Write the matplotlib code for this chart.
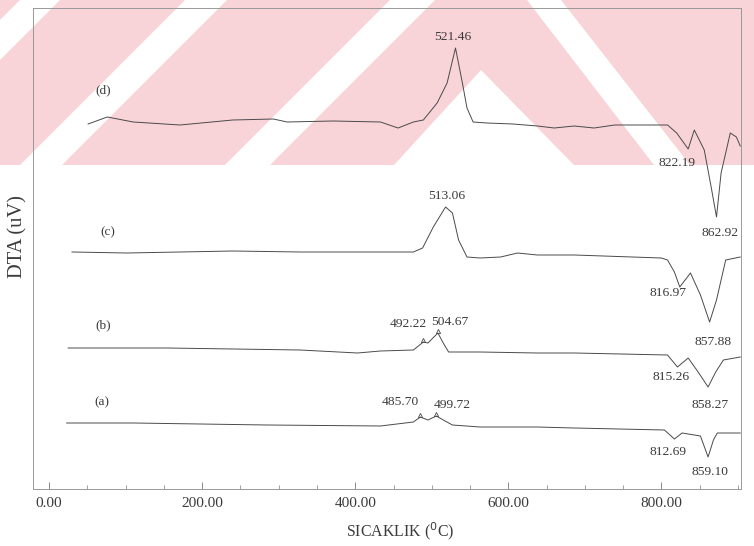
import matplotlib
matplotlib.use('Agg')
import matplotlib.pyplot as plt
from matplotlib.patches import Polygon
from matplotlib.ticker import MultipleLocator, FormatStrFormatter

plt.rcParams['font.family'] = ['Liberation Serif', 'DejaVu Serif']

# Egriler: sicaklik (C) ve DTA (uV, kaydirilmis)
t_d = [51, 76, 110, 171, 240, 293, 311, 371, 433, 456, 476, 489, 507, 520, 531, 540, 546,
       554, 572, 606, 638, 660, 686, 712, 739, 782, 808, 820, 835, 843, 856, 865, 872, 878,
       890, 898, 903]
v_d = [36.5, 37.2, 36.7, 36.4, 36.9, 37.0, 36.7, 36.8, 36.7, 36.1, 36.7, 36.9, 38.6, 40.6,
       44.1, 40.6, 38.1, 36.7, 36.6, 36.5, 36.3, 36.1, 36.3, 36.1, 36.4, 36.4, 36.4, 35.6,
       34.0, 35.9, 33.9, 30.2, 27.2, 31.6, 35.6, 35.2, 34.3]

t_c = [30, 102, 240, 328, 433, 476, 488, 502, 518, 527, 535, 546, 563, 590, 612, 638, 686,
       800, 808, 817, 824, 838, 851, 863, 872, 884, 903]
v_c = [23.7, 23.6, 23.8, 23.7, 23.7, 23.7, 24.1, 26.2, 28.2, 27.6, 24.9, 23.2, 23.1, 23.2,
       23.6, 23.4, 23.4, 23.1, 22.9, 21.7, 20.2, 21.6, 19.4, 16.7, 18.9, 22.9, 23.2]

t_b = [25, 154, 328, 403, 433, 476, 489, 495, 508, 515, 522, 563, 638, 686, 808, 821, 835,
       848, 861, 871, 881, 903]
v_b = [14.1, 14.1, 13.9, 13.6, 13.8, 13.9, 14.7, 14.6, 15.6, 14.6, 13.7, 13.7, 13.6, 13.6,
       13.4, 12.2, 13.1, 11.7, 10.2, 11.7, 12.9, 13.2]

t_a = [23, 110, 285, 433, 476, 485, 495, 506, 515, 527, 563, 638, 686, 804, 817, 827, 851,
       861, 868, 873, 903]
v_a = [6.6, 6.6, 6.4, 6.3, 6.7, 7.2, 6.9, 7.3, 6.9, 6.4, 6.2, 6.2, 6.1, 5.9, 5.0, 5.6, 5.3,
       3.2, 4.9, 5.6, 5.6]

# egri etiketleri
curve_names = ['(d)', '(c)', '(b)', '(a)']
name_pos = [(71, 39.9), (77, 25.7), (71, 16.4), (69, 8.7)]

# pik etiketleri: (metin, x, y)
peak_labels = [
    ('521.46', 528, 45.2), ('822.19', 821, 32.6), ('862.92', 877, 25.6),
    ('513.06', 520, 29.3), ('816.97', 809, 19.6), ('857.88', 867, 14.7),
    ('492.22', 469, 16.5), ('504.67', 524, 16.7), ('815.26', 812, 11.2), ('858.27', 863, 8.4),
    ('485.70', 459, 8.7), ('499.72', 527, 8.4), ('812.69', 809, 3.7), ('859.10', 864, 1.7),
]
# kucuk pik isaretleri (b) ve (a)
mark_t = [489, 508, 485, 506]
mark_v = [14.9, 15.8, 7.4, 7.5]

fig = plt.figure(figsize=(7.54, 5.46), dpi=100)

# filigran (arka plan)
W, H = 754.0, 546.0
def fpoly(pts, color):
    p = Polygon([(x / W, 1 - y / H) for x, y in pts], closed=True, transform=fig.transFigure,
                facecolor=color, edgecolor='none', zorder=-2)
    fig.patches.append(p)

pink = '#f8d3d8'
fpoly([(0, 0), (754, 0), (754, 165), (0, 165)], pink)
white = 'white'
fpoly([(-145, 165), (-105, 165), (60, 0), (20, 0)], white)
fpoly([(20, 165), (62, 165), (227, 0), (185, 0)], white)
fpoly([(225, 165), (270, 165), (435, 0), (390, 0)], white)
fpoly([(394, 165), (481, 70), (574, 165)], white)
fpoly([(527, 0), (561, 0), (690, 165), (654, 165)], white)

ax = fig.add_axes([33 / W, 1 - 489 / H, (741 - 33) / W, (489 - 8) / H])
ax.set_facecolor('none')

lc = '#4a4a4a'
for t, v in [(t_d, v_d), (t_c, v_c), (t_b, v_b), (t_a, v_a)]:
    ax.plot(t, v, color=lc, lw=0.7)

ax.plot(mark_t, mark_v, linestyle='none', marker='^', markersize=3,
        markerfacecolor='none', markeredgecolor=lc, markeredgewidth=0.6)

tc = '#3a3a3a'
for name, (x, y) in zip(curve_names, name_pos):
    ax.text(x, y, name, ha='center', va='center', fontsize=9.5, color=tc)
for s, x, y in peak_labels:
    ax.text(x, y, s, ha='center', va='center', fontsize=9.7, color=tc)

ax.set_xlim(-21, 904)
ax.set_ylim(0, 48.1)
ax.xaxis.set_major_locator(MultipleLocator(200))
ax.xaxis.set_minor_locator(MultipleLocator(50))
ax.xaxis.set_major_formatter(FormatStrFormatter('%.2f'))
ax.tick_params(axis='x', which='major', direction='in', length=5, width=0.6,
               colors='#777777', labelcolor=tc, labelsize=11, pad=6)
ax.tick_params(axis='x', which='minor', direction='in', length=3, width=0.5, colors='#777777')
ax.set_yticks([])
for sp in ax.spines.values():
    sp.set_color('#999999')
    sp.set_linewidth(0.7)

fig.text(400 / W, 1 - 531 / H, 'SICAKLIK ($^{0}$C)', ha='center', va='center',
         fontsize=11.4, color=tc)
fig.text(18 / W, 1 - 237 / H, 'DTA (uV)', ha='center', va='center', rotation=90,
         fontsize=14.8, color=tc)

fig.savefig('out.png', dpi=100)
